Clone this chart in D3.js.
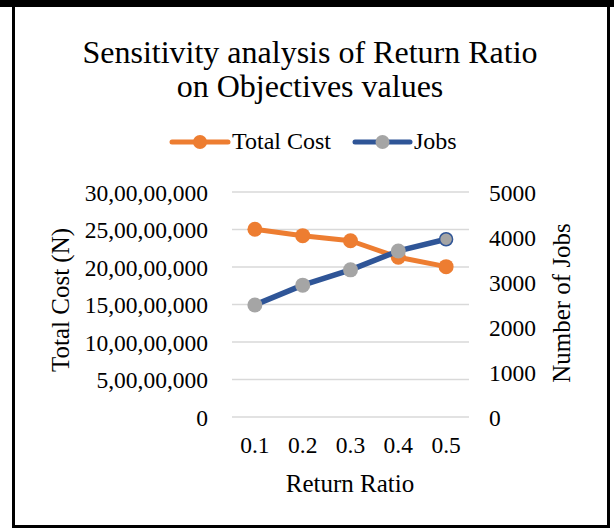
<!DOCTYPE html>
<html><head><meta charset="utf-8">
<script src="https://cdn.jsdelivr.net/npm/d3@7"></script>
<style>body{margin:0;background:#fff}svg{display:block}text{font-family:"Liberation Serif","Times New Roman",serif;fill:#000}</style>
</head><body>
<script>
const categories = ["0.1","0.2","0.3","0.4","0.5"];
const totalCost = [250300000, 241800000, 235000000, 213000000, 200500000];
const jobs = [2490, 2930, 3270, 3690, 3950];
const leftTicks = [0, 50000000, 100000000, 150000000, 200000000, 250000000, 300000000];
const rightTicks = [0, 1000, 2000, 3000, 4000, 5000];
const titleLines = ["Sensitivity analysis of Return Ratio", "on Objectives values"];

const W = 614, H = 530;
const svg = d3.select("body").append("svg").attr("width", W).attr("height", H);
svg.append("rect").attr("width", W).attr("height", H).attr("fill", "#fff");

// frame
svg.append("rect").attr("x", 0).attr("y", 0).attr("width", W).attr("height", 7).attr("fill", "#000");
svg.append("rect").attr("x", 12).attr("y", 7).attr("width", 3).attr("height", 521).attr("fill", "#000");
svg.append("rect").attr("x", 607).attr("y", 7).attr("width", 3).attr("height", 521).attr("fill", "#000");
svg.append("rect").attr("x", 12).attr("y", 525).attr("width", 598).attr("height", 3).attr("fill", "#000");

const plot = {left: 232, right: 469, top: 192, bottom: 417};
const x = d3.scaleBand().domain(categories).range([plot.left - 1, plot.right + 1]);
const yL = d3.scaleLinear().domain([0, 300000000]).range([plot.bottom, plot.top]);
const yR = d3.scaleLinear().domain([0, 5000]).range([plot.bottom, plot.top]);
const cx = d => x(d) + x.bandwidth() / 2;

// title
svg.append("text").attr("x", 310).attr("text-anchor", "middle").style("font-size", "32px")
  .selectAll("tspan").data(titleLines).join("tspan")
  .attr("x", 310).attr("y", (d, i) => 63 + i * 34).text(d => d);

// gridlines
svg.append("g").selectAll("line").data(leftTicks).join("line")
  .attr("x1", plot.left).attr("x2", plot.right)
  .attr("y1", d => yL(d)).attr("y2", d => yL(d))
  .attr("stroke", "#d9d9d9").attr("stroke-width", 1.5);

// left axis
const fmtIN = v => v === 0 ? "0" : d3.format(",")(v).replace(/,/g, "").replace(/(\d)(?=(\d\d)+\d\d\d$)/g, "$1,").replace(/(\d)(?=\d\d\d$)/, "$1,");
const axL = svg.append("g").attr("transform", `translate(${plot.left - 24},0)`)
  .call(d3.axisLeft(yL).tickValues(leftTicks).tickFormat(fmtIN).tickSize(0).tickPadding(0));
axL.select(".domain").remove();
axL.selectAll("text").style("font-size", "23.5px").attr("dy", "0.34em");

// right axis
const axR = svg.append("g").attr("transform", `translate(${489},0)`)
  .call(d3.axisRight(yR).tickValues(rightTicks).tickFormat(d3.format("d")).tickSize(0).tickPadding(0));
axR.select(".domain").remove();
axR.selectAll("text").style("font-size", "23.5px").attr("dy", "0.34em");

// x axis
const axX = svg.append("g").attr("transform", `translate(0,${plot.bottom})`)
  .call(d3.axisBottom(x).tickSize(0).tickPadding(0));
axX.select(".domain").remove();
axX.selectAll("text").style("font-size", "23.5px").attr("dy", null).attr("y", 36);

// axis titles
svg.append("text").attr("x", 350).attr("y", 492).attr("text-anchor", "middle").style("font-size", "25px").text("Return Ratio");
svg.append("text").attr("transform", "translate(69,300) rotate(-90)").attr("text-anchor", "middle").style("font-size", "25px").text("Total Cost (N)");
svg.append("text").attr("transform", "translate(570,303) rotate(-90)").attr("text-anchor", "middle").style("font-size", "25px").text("Number of Jobs");

// series
const orange = "#ED7D31", blue = "#2F5597", gray = "#A5A5A5";
const lineL = d3.line().x((d, i) => cx(categories[i])).y(d => yL(d));
const lineR = d3.line().x((d, i) => cx(categories[i])).y(d => yR(d));

svg.append("path").datum(totalCost).attr("d", lineL).attr("fill", "none").attr("stroke", orange).attr("stroke-width", 5).attr("stroke-linejoin", "round");
svg.append("g").selectAll("circle").data(totalCost).join("circle")
  .attr("cx", (d, i) => cx(categories[i])).attr("cy", d => yL(d)).attr("r", 7.5).attr("fill", orange);

svg.append("path").datum(jobs).attr("d", lineR).attr("fill", "none").attr("stroke", blue).attr("stroke-width", 5.5).attr("stroke-linejoin", "round");
svg.append("g").selectAll("circle").data(jobs).join("circle")
  .attr("cx", (d, i) => cx(categories[i])).attr("cy", d => yR(d))
  .attr("r", (d, i) => i === jobs.length - 1 ? 6.5 : 7.5).attr("fill", gray)
  .attr("stroke", (d, i) => i === jobs.length - 1 ? blue : "none").attr("stroke-width", 1.5);

// legend
const leg = [{name: "Total Cost", color: orange, fill: orange, x: 172, w: 56}, {name: "Jobs", color: blue, fill: gray, x: 355, w: 55}];
const lg = svg.append("g").selectAll("g").data(leg).join("g");
lg.append("line").attr("x1", d => d.x).attr("x2", d => d.x + d.w).attr("y1", 142).attr("y2", 142)
  .attr("stroke", d => d.color).attr("stroke-width", 5).attr("stroke-linecap", "round");
lg.append("circle").attr("cx", d => d.x + d.w / 2).attr("cy", 142).attr("r", 7).attr("fill", d => d.fill);
lg.append("text").attr("x", d => d.x + d.w + 4).attr("y", 148.5).style("font-size", "24px").text(d => d.name);
</script>
</body></html>
